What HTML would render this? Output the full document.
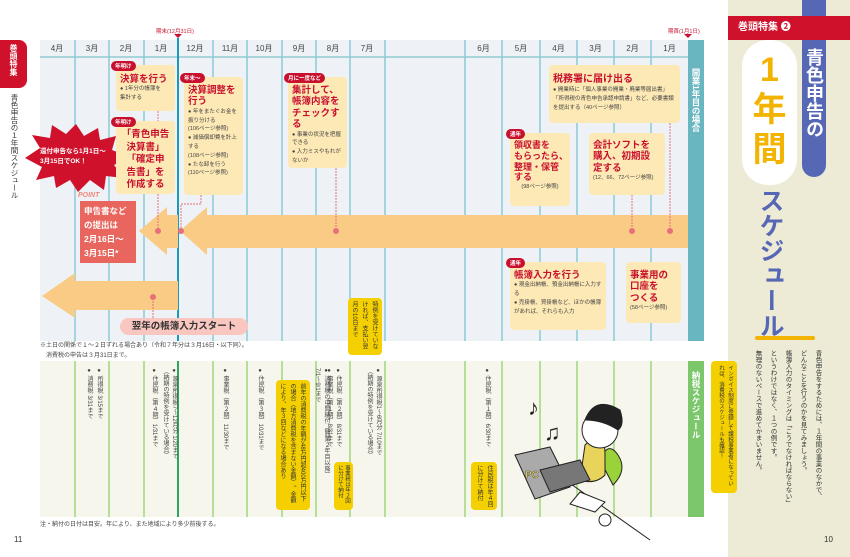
<!DOCTYPE html>
<html><head><meta charset="utf-8">
<style>
*{margin:0;padding:0;box-sizing:border-box}
body{width:850px;height:557px;position:relative;background:#fff;font-family:"Liberation Sans","Noto Sans CJK JP",sans-serif;overflow:hidden;color:#333}
.a{position:absolute}
.v{writing-mode:vertical-rl}
.box{position:absolute;background:#fde9b5;border-radius:4px;padding:4px 4px;overflow:hidden}
.t{color:#c8102e;font-weight:bold;line-height:1.2}
.s{font-size:5.5px;line-height:1.6;color:#444}
.tag{position:absolute;background:#c8102e;color:#fff;font-size:5.5px;border-radius:6px;padding:1px 4px;font-weight:bold}
.m{position:absolute;top:43px;font-size:8px;color:#444;width:34px;text-align:center}
.yc{position:absolute;background:#f5d000;border-radius:4px;font-size:6px;line-height:10px;color:#333;padding:3px;overflow:hidden}
.lv{position:absolute;font-size:6px;color:#444;writing-mode:vertical-rl;line-height:9px}
</style></head><body>
<div class="a" style="left:40px;top:40px;width:648px;height:301px;background:#eef2f6"></div>
<div class="a" style="left:40px;top:56px;width:648px;height:2px;background:#a8d4dc"></div>
<svg class="a" style="left:0;top:0" width="850" height="557">
<g stroke="#8ccad6" stroke-width="1.5">
<line x1="75" y1="40" x2="75" y2="341"/><line x1="109" y1="40" x2="109" y2="341"/><line x1="144" y1="40" x2="144" y2="341"/>
<line x1="213" y1="40" x2="213" y2="341"/><line x1="247" y1="40" x2="247" y2="341"/><line x1="282" y1="40" x2="282" y2="341"/>
<line x1="316" y1="40" x2="316" y2="341"/><line x1="350" y1="40" x2="350" y2="341"/><line x1="385" y1="40" x2="385" y2="341"/>
<line x1="465" y1="40" x2="465" y2="341"/><line x1="502" y1="40" x2="502" y2="341"/><line x1="540" y1="40" x2="540" y2="341"/>
<line x1="577" y1="40" x2="577" y2="341"/><line x1="614" y1="40" x2="614" y2="341"/><line x1="651" y1="40" x2="651" y2="341"/>
</g>
<line x1="178" y1="38" x2="178" y2="341" stroke="#1a9ab8" stroke-width="2"/>
<polygon points="174,34 182,34 178,38" fill="#c8102e"/>
<polygon points="684,34 692,34 688,38" fill="#c8102e"/>
<polygon points="139,231 167,207 167,215 178,215 178,248 167,248 167,255" fill="#f9cb85"/>
<polygon points="180,231 207,207 207,215 688,215 688,248 207,248 207,255" fill="#f9cb85"/>
<polygon points="42,296 75,273 75,281 178,281 178,310 75,310 75,318" fill="#f9cb85"/>
<g stroke="#e8707a" stroke-dasharray="2,1" fill="none">
<line x1="158" y1="111" x2="158" y2="121"/><line x1="158" y1="194" x2="158" y2="231"/>
<polyline points="201,195 201,204 181,204 181,231"/>
<line x1="336" y1="168" x2="336" y2="231"/>
<line x1="632" y1="195" x2="632" y2="231"/><line x1="670" y1="123" x2="670" y2="231"/>
<line x1="153" y1="298" x2="153" y2="320"/>
</g>
<g fill="#e8707a"><circle cx="158" cy="231" r="3"/><circle cx="181" cy="231" r="3"/><circle cx="336" cy="231" r="3"/><circle cx="632" cy="231" r="3"/><circle cx="670" cy="231" r="3"/><circle cx="153" cy="297" r="3"/></g>
<rect x="40" y="361" width="648" height="156" fill="#f6f6ec"/>
<g stroke="#9fd67a" stroke-width="1.5">
<line x1="75" y1="361" x2="75" y2="517"/><line x1="109" y1="361" x2="109" y2="517"/><line x1="144" y1="361" x2="144" y2="517"/>
<line x1="213" y1="361" x2="213" y2="517"/><line x1="247" y1="361" x2="247" y2="517"/><line x1="282" y1="361" x2="282" y2="517"/>
<line x1="316" y1="361" x2="316" y2="517"/><line x1="350" y1="361" x2="350" y2="517"/><line x1="385" y1="361" x2="385" y2="517"/>
<line x1="465" y1="361" x2="465" y2="517"/><line x1="502" y1="361" x2="502" y2="517"/><line x1="540" y1="361" x2="540" y2="517"/>
<line x1="577" y1="361" x2="577" y2="517"/><line x1="614" y1="361" x2="614" y2="517"/><line x1="651" y1="361" x2="651" y2="517"/>
</g>
<line x1="178" y1="361" x2="178" y2="517" stroke="#2aa860" stroke-width="2"/>
<polygon fill="#d0112b" points="25,158 40,148 32,135 50,138 52,125 66,134 76,124 84,136 98,128 100,140 116,136 112,150 130,157 114,165 124,178 106,176 104,190 90,180 78,192 70,180 56,188 54,176 36,180 42,167" />
<g fill="none" stroke="#222" stroke-width="1">
<path d="M530,455 L650,540"/>
<path d="M600,460 q8,-20 18,-5 q10,15 -5,30 z" fill="#9ad23a"/>
<path d="M585,445 q20,-20 20,10 l0,20 q-10,10 -25,5 z" fill="#e8d45a"/>
<circle cx="600" cy="430" r="18" fill="#fff"/>
<path d="M585,420 q10,-25 35,-10 q5,15 -2,20 q-15,-10 -33,-10z" fill="#222"/>
<path d="M515,455 l35,-8 l20,40 l-35,12 z" fill="#aaa"/>
<path d="M540,470 l40,-10 l10,20 l-40,12 z" fill="#777"/>
<path d="M580,492 l25,10 l-10,10 l-25,-8z" fill="#fff"/>
<circle cx="605" cy="520" r="6" fill="#fff"/>
</g>
<text x="528" y="415" font-size="22" fill="#222">♪</text><text x="544" y="440" font-size="22" fill="#222">♫</text>
<text x="525" y="478" font-size="10" font-weight="bold" fill="#e8d45a" stroke="#444" stroke-width=".4">PC</text>
</svg>
<div class="m" style="left:40px">4月</div><div class="m" style="left:75px">3月</div><div class="m" style="left:109px">2月</div><div class="m" style="left:144px">1月</div>
<div class="m" style="left:178px">12月</div><div class="m" style="left:213px">11月</div><div class="m" style="left:247px">10月</div><div class="m" style="left:282px">9月</div>
<div class="m" style="left:316px">8月</div><div class="m" style="left:350px">7月</div>
<div class="m" style="left:465px;width:37px">6月</div><div class="m" style="left:502px;width:38px">5月</div><div class="m" style="left:540px;width:37px">4月</div>
<div class="m" style="left:577px;width:37px">3月</div><div class="m" style="left:614px;width:37px">2月</div><div class="m" style="left:651px;width:37px">1月</div>
<div class="a" style="left:156px;top:27px;font-size:5.5px;color:#c8102e">期末(12月31日)</div>
<div class="a" style="left:668px;top:27px;font-size:5.5px;color:#c8102e">期首(1月1日)</div>
<div class="a v" style="left:688px;top:40px;width:16px;height:301px;background:#6ab6c0;color:#fff;font-size:8.5px;font-weight:bold;padding-top:28px;line-height:16px">開業1年目の場合</div>
<div class="a v" style="left:688px;top:361px;width:16px;height:156px;background:#7cc66c;color:#fff;font-size:8.5px;font-weight:bold;padding-top:10px;line-height:16px">納税スケジュール</div>
<div class="box" style="left:116px;top:65px;width:59px;height:46px"><div class="t" style="font-size:9.5px;margin-top:5px">決算を行う</div><div class="s">● 1年分の帳簿を<br>集計する</div></div>
<div class="tag" style="left:111px;top:61px">年明け</div>
<div class="box" style="left:116px;top:121px;width:59px;height:73px;text-align:center"><div class="t" style="font-size:9.5px;margin-top:4px;line-height:12.5px">「青色申告<br>決算書」<br>「確定申<br>告書」を<br>作成する</div></div>
<div class="tag" style="left:111px;top:117px">年明け</div>
<div class="box" style="left:184px;top:77px;width:59px;height:118px"><div class="t" style="font-size:9.5px;margin-top:4px">決算調整を<br>行う</div><div class="s">● 年をまたぐお金を振り分ける<br>(106ページ参照)<br>● 減価償却費を計上する<br>(108ページ参照)<br>● たな卸を行う<br>(110ページ参照)</div></div>
<div class="tag" style="left:180px;top:73px">年末〜</div>
<div class="box" style="left:288px;top:77px;width:59px;height:91px"><div class="t" style="font-size:9.5px;margin-top:4px">集計して、<br>帳簿内容を<br>チェックする</div><div class="s">● 事業の状況を把握できる<br>● 入力ミスやもれがないか</div></div>
<div class="tag" style="left:284px;top:73px">月に一度など</div>
<div class="box" style="left:549px;top:65px;width:131px;height:58px"><div class="t" style="font-size:10px;margin-top:5px">税務署に届け出る</div><div class="s">● 開業時に「個人事業の開業・廃業等届出書」「所得税の青色申告承認申請書」など、必要書類を提出する（40ページ参照）</div></div>
<div class="box" style="left:510px;top:133px;width:60px;height:73px"><div class="t" style="font-size:9px;margin-top:3px;white-space:nowrap">領収書を<br>もらったら、<br>整理・保管<br>する</div><div class="s" style="text-align:center">(98ページ参照)</div></div>
<div class="tag" style="left:506px;top:129px">通年</div>
<div class="box" style="left:589px;top:133px;width:76px;height:62px"><div class="t" style="font-size:9.5px;margin-top:3px">会計ソフトを<br>購入、初期設<br>定する</div><div class="s">(12、66、72ページ参照)</div></div>
<div class="box" style="left:510px;top:262px;width:96px;height:68px"><div class="t" style="font-size:9.5px;margin-top:4px">帳簿入力を行う</div><div class="s">● 現金出納帳、預金出納帳に入力する<br>● 売掛帳、買掛帳など、ほかの帳簿があれば、それらも入力</div></div>
<div class="tag" style="left:506px;top:258px">通年</div>
<div class="box" style="left:626px;top:262px;width:55px;height:61px"><div class="t" style="font-size:9.5px;margin-top:4px">事業用の<br>口座を<br>つくる</div><div class="s">(58ページ参照)</div></div>
<div class="a" style="left:40px;top:147px;width:90px;font-size:6.5px;color:#fff;font-weight:bold;line-height:1.5">還付申告なら1月1日〜<br>3月15日でOK！</div>
<div class="a" style="left:78px;top:192px;font-size:7px;color:#f08a7a;font-style:italic;font-weight:bold">POINT</div>
<div class="a" style="left:80px;top:201px;width:56px;height:62px;background:#e8665e;color:#fff;font-size:8.5px;font-weight:bold;line-height:14px;padding:3px 4px">申告書など<br>の提出は<br>2月16日〜<br>3月15日*</div>
<div class="a" style="left:120px;top:318px;width:128px;height:17px;background:#f9c6c0;border-radius:9px;font-size:9.5px;font-weight:bold;text-align:center;line-height:17px">翌年の帳簿入力スタート</div>
<div class="a" style="left:40px;top:342px;font-size:6px;line-height:1.6;color:#444">※土日の関係で１～２日ずれる場合あり（令和７年分は３月16日・以下同）。<br>　消費税の申告は３月31日まで。</div>
<div class="a" style="left:40px;top:519px;font-size:6px;color:#444">注・納付の日付は目安。年により、また地域により多少前後する。</div>
<div class="a" style="left:14px;top:535px;font-size:8px">11</div>
<div class="lv" style="left:94px;top:368px">● 所得税 3/15まで</div>
<div class="lv" style="left:84px;top:368px">● 消費税 3/31まで</div>
<div class="lv" style="left:160px;top:368px">● 源泉所得税7〜12月分 1/20まで<br>（納期の特例を受けている場合）</div>
<div class="lv" style="left:149px;top:368px">● 住民税（第４期）1/31まで</div>
<div class="lv" style="left:220px;top:368px">● 事業税（第２期）11/30まで</div>
<div class="lv" style="left:255px;top:368px">● 住民税（第３期）10/31まで</div>
<div class="lv" style="left:333px;top:368px">● 住民税（第２期）8/31まで</div>
<div class="lv" style="left:324px;top:368px">● 事業税（第１期）8/31まで</div>
<div class="lv" style="left:312px;top:368px">● 消費税の中間納付（開業２年目以降）<br>7/1〜9/1まで</div>
<div class="lv" style="left:364px;top:368px">● 源泉所得税1〜6月分 7/10まで<br>（納期の特例を受けている場合）</div>
<div class="lv" style="left:482px;top:368px">● 住民税（第１期）6/30まで</div>
<div class="yc v" style="left:348px;top:298px;width:34px;height:57px">特例を受けていなければ、支払い翌月の10日まで</div>
<div class="yc v" style="left:276px;top:380px;width:34px;height:130px">前年の消費税の年額が48万円超400万円以下の場合（地方消費税を含まない金額）。金額により、年３回などになる場合あり</div>
<div class="yc v" style="left:334px;top:462px;width:19px;height:48px;line-height:7px;font-size:5.5px">事業税は年２回に分けて納付</div>
<div class="yc v" style="left:471px;top:462px;width:26px;height:48px">住民税は年４回に分けて納付</div>
<div class="a v" style="left:0;top:40px;width:27px;height:48px;background:#d0112b;border-radius:0 8px 8px 0;color:#fff;font-size:8px;font-weight:bold;line-height:27px;padding-top:4px">巻頭特集</div>
<div class="a v" style="left:7px;top:94px;font-size:7.5px;line-height:14px">青色申告の１年間スケジュール</div>
<div class="a" style="left:728px;top:0;width:122px;height:557px;background:#edebd6"></div>
<div class="yc v" style="left:711px;top:361px;width:26px;height:132px;font-size:5.5px;line-height:9px;padding:4px 3px">インボイス制度に登録して課税事業者になっていれば、消費税のスケジュールも確認！</div>
<div class="a" style="left:824px;top:535px;font-size:8px">10</div>
<div class="a" style="left:802px;top:0;width:24px;height:177px;background:#5668b5;border-radius:0 0 12px 12px"></div>
<div class="a" style="left:728px;top:16px;width:122px;height:24px;background:#d0112b;color:#fff;font-size:10px;font-weight:bold;line-height:24px;padding-left:10px">巻頭特集 ❷</div>
<div class="a v" style="left:802px;top:48px;width:24px;font-size:18px;font-weight:bold;color:#fff;line-height:24px">青色申告の</div>
<div class="a" style="left:742px;top:40px;width:55px;height:145px;background:#fff;border-radius:26px"></div>
<div class="a" style="left:744px;top:50px;width:51px;text-align:center;font-size:34px;font-weight:bold;color:#f2b400;line-height:40px">1<br>年<br>間</div>
<div class="a v" style="left:752px;top:188px;font-size:25px;font-weight:bold;color:#5668b5;line-height:36px">スケジュール</div>
<div class="a" style="left:755px;top:336px;width:60px;height:4px;background:#f2b400;border-radius:2px"></div>
<div class="a v" style="left:750px;top:350px;height:200px;font-size:6.5px;line-height:15px;color:#333;white-space:nowrap">青色申告をするためには、１年間の事業のなかで、<br>どんなことを行うのかを見てみましょう。<br>帳簿入力のタイミングは「こうでなければならない」<br>というわけではなく、１つの例です。<br>無理のないペースで進めてかまいません。</div>
</body></html>
